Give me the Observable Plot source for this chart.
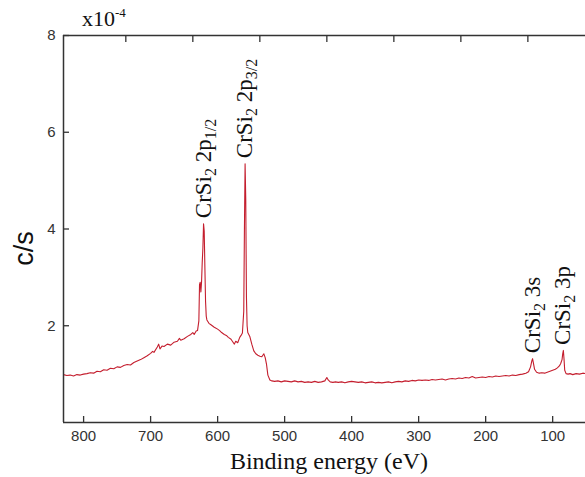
<!DOCTYPE html>
<html><head><meta charset="utf-8">
<script src="https://cdn.jsdelivr.net/npm/d3@7"></script>
<script src="https://cdn.jsdelivr.net/npm/@observablehq/plot@0.6"></script>
<style>body{margin:0;background:#fff}</style>
</head><body><div id="chart"></div>
<script>
// Binding energy (eV)
const energy = [830,825,820,815,810,805,800,795,790,785,780,775,770,765,760,755,750,745,740,735,730,725,720,715,710,705,700,697,695,690,688,686,683,680,675,670,665,660,657,655,650,645,640,637,635,632,630,628,627,626,625,624,623,622,621,620,619,618,617,616,613,610,605,600,597,594,590,587,584,580,577,575,573,570,567,565,563,561,560,559,558,557,556,555,552,549,546,543,540,537,534,531,529,527,525,522,519,515,510,505,500,495,490,485,480,475,470,465,460,455,450,445,440,437,435,432,428,424,420,415,410,405,400,395,390,385,380,375,370,365,360,355,350,345,340,335,330,325,320,315,310,305,300,295,290,285,280,275,270,265,260,255,250,245,240,235,230,225,220,215,210,205,200,195,190,185,180,175,170,165,160,155,150,145,140,136,133,131,130,129,127,124,120,116,112,108,104,100,96,93,90,88,86,85,84,83,82,80,77,74,70,65,60,55,51];
// counts (x10^-4 c/s)
const counts = [0.99,0.97,0.98,0.96,0.99,0.98,1.00,1.01,1.03,1.02,1.06,1.05,1.09,1.08,1.12,1.11,1.15,1.14,1.18,1.20,1.19,1.24,1.27,1.30,1.34,1.38,1.43,1.47,1.45,1.56,1.62,1.52,1.58,1.57,1.62,1.60,1.66,1.68,1.74,1.70,1.73,1.78,1.82,1.86,1.82,1.89,1.90,2.10,2.85,2.90,2.70,2.90,3.30,3.60,4.11,3.95,3.20,2.50,2.20,2.12,2.05,2.02,1.97,1.93,1.90,1.86,1.82,1.80,1.76,1.72,1.66,1.62,1.68,1.65,1.76,1.80,1.85,2.30,4.00,5.35,4.60,2.60,2.00,1.86,1.78,1.62,1.48,1.42,1.39,1.37,1.36,1.42,1.34,1.20,0.98,0.88,0.86,0.85,0.86,0.84,0.86,0.85,0.84,0.86,0.84,0.85,0.83,0.84,0.83,0.85,0.83,0.84,0.86,0.93,0.88,0.84,0.83,0.84,0.83,0.84,0.82,0.84,0.85,0.84,0.83,0.84,0.82,0.83,0.84,0.82,0.83,0.82,0.83,0.84,0.82,0.84,0.85,0.84,0.86,0.85,0.87,0.86,0.88,0.87,0.88,0.87,0.89,0.88,0.89,0.90,0.88,0.90,0.91,0.90,0.92,0.91,0.93,0.92,0.95,0.92,0.93,0.94,0.93,0.95,0.94,0.96,0.95,0.96,0.97,0.96,0.98,0.97,0.99,1.00,1.02,1.05,1.15,1.28,1.32,1.25,1.10,1.04,1.02,1.03,1.02,1.04,1.06,1.08,1.10,1.13,1.17,1.22,1.30,1.42,1.49,1.30,1.08,1.01,1.00,1.01,0.99,1.01,1.00,1.02,1.01];
const xTicks = [800,700,600,500,400,300,200,100];
const topTicks = [737,637,537,437,337,237,137];
const yTicks = [2,4,6,8];
// peak annotations
const annEnergy = [621,559,130,84];
const annCounts = [4.11,5.35,1.32,1.49];
const annMain = ["CrSi","CrSi","CrSi","CrSi"];
const annSubA = ["2","2","2","2"];
const annMid = [" 2p"," 2p"," 3s"," 3p"];
const annSubB = ["1/2","3/2","",""];

const data = energy.map((e, i) => ({e, c: counts[i]}));
const W = 585, H = 477, mL = 63, mR = 0, mT = 35, mB = 55;
const innerW = W - mL - mR, innerH = H - mT - mB;
const axisColor = "#333";

const plot = Plot.plot({
  width: W, height: H,
  marginLeft: mL, marginRight: mR, marginTop: mT, marginBottom: mB,
  style: {fontFamily: "'Liberation Sans', Arial, sans-serif", fontSize: "15px", color: "#333", background: "#fff"},
  x: {domain: [830, 51], label: null},
  y: {domain: [0, 8], label: null},
  marks: [
    Plot.line(data, {x: "e", y: "c", stroke: "#c41e2e", strokeWidth: 1.1}),
    Plot.ruleX(xTicks, {x: d => d, insetTop: innerH - 6, stroke: axisColor, strokeWidth: 1.3}),
    Plot.ruleX(topTicks, {x: d => d, insetBottom: innerH - 7, stroke: axisColor, strokeWidth: 1.3}),
    Plot.ruleY(yTicks, {y: d => d, insetRight: innerW - 6, stroke: axisColor, strokeWidth: 1.3}),
    Plot.ruleY([0], {stroke: axisColor, strokeWidth: 1.5}),
    Plot.ruleY([8], {stroke: axisColor, strokeWidth: 1.5}),
    Plot.ruleX([830], {stroke: axisColor, strokeWidth: 1.5}),
    Plot.axisX({ticks: xTicks, tickSize: 0, tickPadding: 8, tickFormat: d => String(d), label: null, fontSize: 15}),
    Plot.axisY({ticks: yTicks, tickSize: 0, tickPadding: 8, tickFormat: d => String(d), label: null, fontSize: 15})
  ]
});
document.getElementById("chart").appendChild(plot);

const svg = d3.select(plot);
const sx = plot.scale("x"), sy = plot.scale("y");
const serif = "'Liberation Serif', 'Times New Roman', serif";

// peak labels
annEnergy.forEach((e, i) => {
  const x = sx.apply(e), y = sy.apply(annCounts[i]) - 5;
  const t = svg.append("text")
    .attr("transform", `translate(${x},${y}) rotate(-90)`)
    .attr("text-anchor", "start")
    .attr("font-family", serif).attr("font-size", 23).attr("fill", "#111")
    .attr("dy", "0.33em");
  t.append("tspan").text(annMain[i]);
  t.append("tspan").attr("font-size", 16).attr("dy", 5).text(annSubA[i]);
  t.append("tspan").attr("dy", -5).text(annMid[i]);
  if (annSubB[i]) t.append("tspan").attr("font-size", 16).attr("dy", 5).text(annSubB[i]);
});

// axis titles
svg.append("text")
  .attr("x", mL + innerW / 2 + 5).attr("y", 469)
  .attr("text-anchor", "middle")
  .attr("font-family", serif).attr("font-size", 24).attr("fill", "#111")
  .text("Binding energy (eV)");
svg.append("text")
  .attr("transform", `translate(33,${mT + innerH / 2 + 20}) rotate(-90)`)
  .attr("text-anchor", "middle")
  .attr("font-family", "'Liberation Sans', Arial, sans-serif").attr("font-size", 27).attr("fill", "#111")
  .text("c/s");
const ex = svg.append("text")
  .attr("x", 82).attr("y", 26)
  .attr("text-anchor", "start")
  .attr("font-family", serif).attr("font-size", 22).attr("fill", "#111");
ex.append("tspan").text("x10");
ex.append("tspan").attr("font-size", 13).attr("dy", -9).text("-4");
</script>
</body></html>
